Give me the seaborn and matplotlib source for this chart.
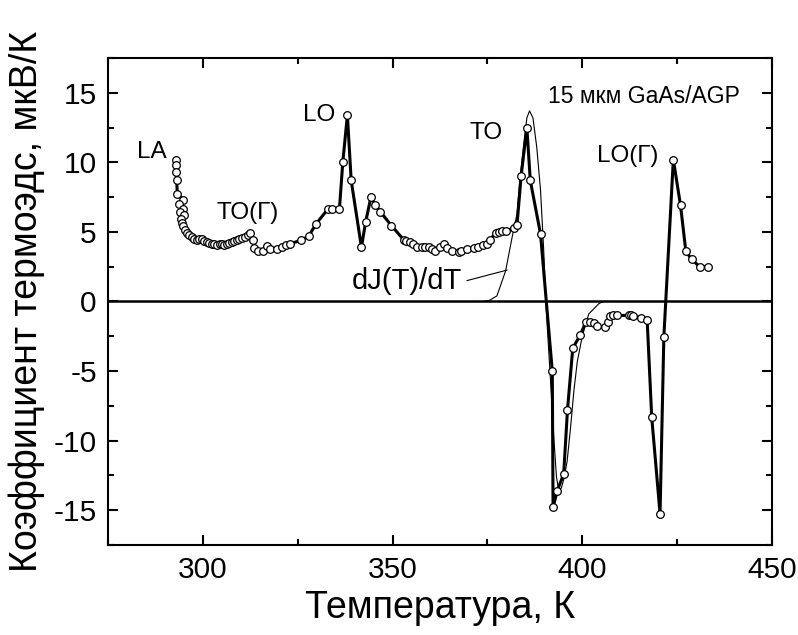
import numpy as np
import pandas as pd
import matplotlib
matplotlib.use("Agg")
import matplotlib.pyplot as plt
from matplotlib.ticker import MultipleLocator
import seaborn as sns

# measured thermopower, in order of measurement
temp = [292.8, 292.9, 293.0, 293.1, 293.3, 294.9, 293.7, 294.9, 294.0, 295.1,
        294.2, 294.6, 294.9, 295.3, 295.8, 296.4, 297.1, 297.8, 298.4, 299.1,
        299.7, 300.4, 301.0, 301.7, 302.4, 303.0, 303.7, 304.4, 305.0, 305.7,
        306.3, 307.0, 307.6, 308.3, 309.0, 309.6, 310.3, 311.1, 311.8, 312.5,
        313.2, 313.6, 314.6, 315.8, 317.0, 317.8, 319.5, 320.8, 322.0, 323.0,
        325.9, 327.9, 329.9, 333.0, 334.0, 336.0, 336.9, 338.1, 339.1, 341.8,
        342.9, 344.3, 345.4, 346.8, 349.7, 352.9, 353.6, 354.5, 355.4, 356.4,
        357.7, 358.6, 359.5, 360.3, 361.1, 362.4, 363.6, 364.4, 365.8, 367.6,
        368.0, 369.6, 371.4, 372.4, 373.8, 374.9, 375.7, 377.3, 378.0, 378.9,
        380.0, 381.9, 382.8, 383.9, 385.4, 386.3, 389.0, 392.1, 392.3, 393.4,
        395.1, 396.1, 397.5, 399.5, 400.9, 402.0, 403.0, 404.0, 405.9, 406.7,
        407.2, 408.1, 409.2, 412.2, 412.8, 413.4, 415.4, 417.1, 418.3, 420.5,
        421.5, 424.0, 425.9, 427.3, 428.8, 430.9, 433.2]
seebeck = [10.2, 9.8, 9.3, 8.7, 7.7, 7.3, 7.0, 6.65, 6.4, 6.2,
           5.9, 5.65, 5.4, 5.15, 4.95, 4.8, 4.65, 4.5, 4.45, 4.5,
           4.5, 4.35, 4.3, 4.2, 4.15, 4.1, 4.05, 4.1, 4.1, 4.05,
           4.15, 4.2, 4.3, 4.35, 4.4, 4.5, 4.55, 4.6, 4.75, 4.95,
           4.4, 3.85, 3.65, 3.6, 4.0, 3.75, 3.8, 3.95, 4.05, 4.15,
           4.4, 4.7, 5.6, 6.65, 6.65, 6.65, 10.05, 13.4, 8.7, 3.9,
           5.7, 7.5, 6.95, 6.45, 5.45, 4.45, 4.35, 4.3, 4.1, 3.95,
           3.95, 3.95, 3.9, 3.75, 3.6, 3.9, 4.15, 3.85, 3.6, 3.55,
           3.6, 3.75, 3.85, 3.9, 4.05, 4.1, 4.45, 4.95, 5.0, 5.05,
           5.05, 5.3, 5.5, 9.05, 12.5, 8.7, 4.85, -5.0, -14.8, -13.6,
           -12.4, -7.8, -3.35, -2.4, -1.5, -1.5, -1.55, -1.75, -1.85, -1.45,
           -1.05, -1.0, -1.0, -1.0, -1.0, -1.05, -1.15, -1.3, -8.3, -15.25,
           -2.55, 10.2, 6.9, 3.6, 3.05, 2.5, 2.5]

# dJ(T)/dT curve
t_calc = [371.0, 374.0, 375.5, 377.5, 379.8, 381.5, 382.8, 383.5, 384.5, 385.4,
          386.1, 387.0, 388.0, 389.0, 389.8, 390.4, 391.0, 391.8, 392.6, 393.2,
          393.8, 394.5, 395.2, 396.0, 396.9, 397.8, 398.7, 400.0, 401.7, 404.4,
          405.5, 407.0]
dj_calc = [0.0, 0.0, 0.08, 0.4, 2.2, 4.6, 6.3, 8.6, 11.1, 13.2,
           13.7, 13.2, 11.1, 8.0, 3.9, 0.0, -2.8, -6.5, -10.2, -12.6,
           -13.6, -13.4, -12.7, -11.5, -9.1, -6.4, -4.3, -2.5, -0.9, -0.15,
           0.0, 0.0]

data = pd.DataFrame({"T": temp, "S": seebeck})
calc = pd.DataFrame({"T": t_calc, "dJ": dj_calc})

sns.set_style("ticks")
plt.rcParams["font.family"] = ["Liberation Sans", "DejaVu Sans"]
plt.rcParams["axes.unicode_minus"] = False
for key in ["text.color", "axes.labelcolor", "axes.edgecolor",
            "xtick.color", "ytick.color"]:
    plt.rcParams[key] = "black"

fig = plt.figure(figsize=(7.98, 6.35), dpi=100)
ax = fig.add_axes([0.1353, 0.1417, 0.8321, 0.767])

ax.axhline(0, color="black", lw=1.8, zorder=1)
sns.lineplot(data=calc, x="T", y="dJ", ax=ax, sort=False, estimator=None,
             color="black", lw=0.8, zorder=2)
sns.lineplot(data=data, x="T", y="S", ax=ax, sort=False, estimator=None,
             color="black", lw=2.2, marker="o", markersize=5.5,
             markerfacecolor="white", markeredgecolor="black",
             markeredgewidth=0.9, zorder=3)

ax.set_xlim(275, 450)
ax.set_ylim(-17.5, 17.5)
ax.xaxis.set_major_locator(MultipleLocator(50))
ax.xaxis.set_minor_locator(MultipleLocator(25))
ax.yaxis.set_major_locator(MultipleLocator(5))
ax.yaxis.set_minor_locator(MultipleLocator(2.5))
ax.tick_params(which="both", direction="in", top=True, right=True,
               width=1.5, labelsize=21.5, pad=8)
ax.tick_params(which="major", length=7)
ax.tick_params(which="minor", length=4)
for sp in ax.spines.values():
    sp.set_linewidth(1.5)

ax.set_xlabel("Температура, К", fontsize=27, labelpad=4)
ax.set_ylabel("Коэффициент термоэдс, мкВ/К", fontsize=27, labelpad=6)

lab = dict(fontsize=17.5, va="baseline", ha="left")
ax.text(282.6, 10.3, "LA", **lab)
ax.text(303.7, 5.95, "TO(Г)", **lab)
ax.text(326.5, 13.0, "LO", **lab)
ax.text(370.2, 11.7, "TO", **lab)
ax.text(403.9, 10.0, "LO(Г)", **lab)
ax.text(391.1, 14.3, "15 мкм GaAs/AGP", fontsize=16.5, va="baseline",
        ha="left")
ax.text(339.3, 1.5, "dJ(T)/dT", fontsize=21, va="center", ha="left")
ax.plot([369.6, 380.2], [1.5, 2.26], color="black", lw=0.8)

fig.savefig("out.png", dpi=100)
